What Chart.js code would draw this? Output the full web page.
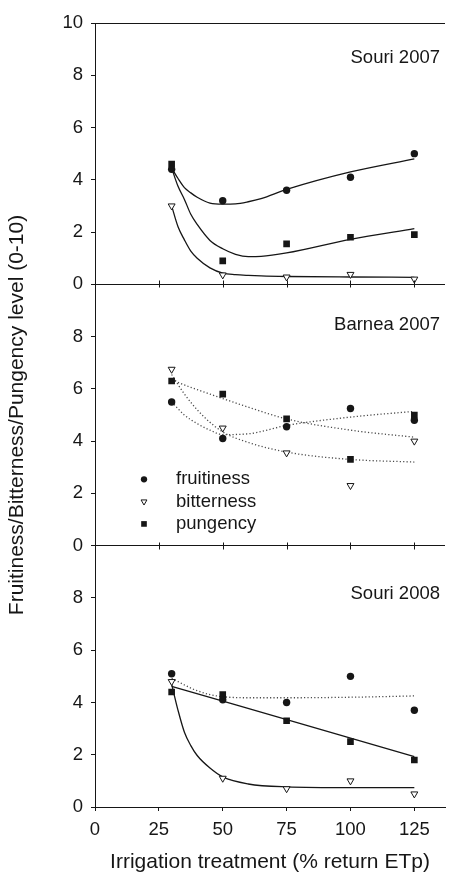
<!DOCTYPE html>
<html>
<head>
<meta charset="utf-8">
<title>Olive oil sensory attributes vs irrigation</title>
<script src="https://cdn.jsdelivr.net/npm/chart.js@4.4.1/dist/chart.umd.min.js"></script>
<style>
  html, body { margin: 0; padding: 0; background: #ffffff; }
  #wrap { width: 450px; height: 875px; }
</style>
</head>
<body>
<div id="wrap"><canvas id="chart" width="450" height="875"></canvas></div>
<script>
// ---- data -------------------------------------------------------------
// Irrigation treatments (% return ETp)
const treatments = [30, 50, 75, 100, 125];
const panelNames = ['Souri 2007', 'Barnea 2007', 'Souri 2008'];
const attributes = ['fruitiness', 'bitterness', 'pungency'];

// Panel means (0-10 scale)
const souri07Fruitiness = [4.4, 3.2, 3.6, 4.1, 5.0];
const souri07Bitterness = [3.0, 0.36, 0.28, 0.38, 0.2];
const souri07Pungency   = [4.6, 0.9, 1.55, 1.8, 1.9];

const barnea07Fruitiness = [5.5, 4.1, 4.55, 5.25, 4.8];
const barnea07Bitterness = [6.75, 4.5, 3.55, 2.3, 4.0];
const barnea07Pungency   = [6.3, 5.8, 4.85, 3.3, 5.0];

const souri08Fruitiness = [5.1, 4.1, 4.0, 5.0, 3.7];
const souri08Bitterness = [4.8, 1.1, 0.7, 1.0, 0.5];
const souri08Pungency   = [4.4, 4.3, 3.3, 2.5, 1.8];

// Fitted response curves, sampled along the treatment axis
const souri07FitX = [30, 32.5, 35, 37.5, 40, 45, 50, 55, 60, 65, 75, 100, 125];
const souri07FruitinessFit = [4.45, 4.05, 3.7, 3.5, 3.33, 3.11, 3.07, 3.08, 3.16, 3.28, 3.63, 4.3, 4.8];
const souri07BitternessFit = [3.0, 2.2, 1.7, 1.27, 1.0, 0.63, 0.43, 0.37, 0.34, 0.32, 0.3, 0.28, 0.27];
const souri07PungencyFit   = [4.45, 3.75, 3.25, 2.68, 2.29, 1.68, 1.36, 1.15, 1.06, 1.07, 1.2, 1.72, 2.13];

const barnea07FitX = [30, 35, 40, 45, 50, 60, 75, 100, 125];
const barnea07FruitinessFit = [5.5, 5.0, 4.67, 4.42, 4.25, 4.28, 4.6, 4.92, 5.14];
const barnea07BitternessFit = [6.55, 5.8, 5.2, 4.72, 4.35, 3.95, 3.58, 3.3, 3.2];
const barnea07PungencyFit   = [6.35, 6.15, 5.97, 5.8, 5.63, 5.3, 4.85, 4.42, 4.15];

const souri08FitX = [30, 32.5, 35, 37.5, 40, 45, 50, 60, 75, 100, 125];
const souri08FruitinessFit = [4.92, 4.8, 4.67, 4.55, 4.45, 4.3, 4.22, 4.18, 4.18, 4.2, 4.25];
const souri08BitternessFit = [4.7, 3.7, 2.86, 2.35, 1.97, 1.49, 1.15, 0.88, 0.77, 0.74, 0.74];
const souri08PungencyFitX  = [30, 125];
const souri08PungencyFit   = [4.62, 1.93];

// ---- styling ----------------------------------------------------------
const INK = '#161616';
const DOTTED = '#4a4a4a';
const FONT = '"Liberation Sans", Arial, Helvetica, sans-serif';

Chart.defaults.font.family = FONT;
Chart.defaults.font.size = 18.5;
Chart.defaults.color = INK;

const markerStyles = {
  fruitiness: { pointStyle: 'circle',   rotation: 0,   radius: 3.7, fill: INK,       border: 0 },
  bitterness: { pointStyle: 'triangle', rotation: 180, radius: 4.0, fill: '#ffffff', border: 1 },
  pungency:   { pointStyle: 'rect',     rotation: 0,   radius: 4.7, fill: INK,       border: 0 }
};

function pts(xs, ys) {
  return xs.map((x, i) => ({ x: x, y: ys[i] }));
}

function markerSet(attr, values, axis) {
  const m = markerStyles[attr];
  return {
    label: attr,
    data: pts(treatments, values),
    yAxisID: axis,
    showLine: false,
    pointStyle: m.pointStyle,
    pointRotation: m.rotation,
    pointRadius: m.radius,
    pointBackgroundColor: m.fill,
    pointBorderColor: INK,
    pointBorderWidth: m.border,
    order: 0
  };
}

function fitSet(attr, xs, ys, axis, dotted) {
  return {
    label: attr + ' fit',
    data: pts(xs, ys),
    yAxisID: axis,
    showLine: true,
    pointRadius: 0,
    borderColor: dotted ? DOTTED : INK,
    borderWidth: dotted ? 1.3 : 1.3,
    borderDash: dotted ? [1.2, 2.2] : [],
    cubicInterpolationMode: 'monotone',
    fill: false,
    order: 1
  };
}

const datasets = [
  // Souri 2007 (solid fits)
  fitSet('fruitiness', souri07FitX, souri07FruitinessFit, 'yTop', false),
  fitSet('bitterness', souri07FitX, souri07BitternessFit, 'yTop', false),
  fitSet('pungency',   souri07FitX, souri07PungencyFit,   'yTop', false),
  markerSet('fruitiness', souri07Fruitiness, 'yTop'),
  markerSet('bitterness', souri07Bitterness, 'yTop'),
  markerSet('pungency',   souri07Pungency,   'yTop'),
  // Barnea 2007 (dotted fits)
  fitSet('fruitiness', barnea07FitX, barnea07FruitinessFit, 'yMid', true),
  fitSet('bitterness', barnea07FitX, barnea07BitternessFit, 'yMid', true),
  fitSet('pungency',   barnea07FitX, barnea07PungencyFit,   'yMid', true),
  markerSet('fruitiness', barnea07Fruitiness, 'yMid'),
  markerSet('bitterness', barnea07Bitterness, 'yMid'),
  markerSet('pungency',   barnea07Pungency,   'yMid'),
  // Souri 2008
  fitSet('fruitiness', souri08FitX, souri08FruitinessFit, 'yBot', true),
  fitSet('bitterness', souri08FitX, souri08BitternessFit, 'yBot', false),
  fitSet('pungency',   souri08PungencyFitX, souri08PungencyFit, 'yBot', false),
  markerSet('fruitiness', souri08Fruitiness, 'yBot'),
  markerSet('bitterness', souri08Bitterness, 'yBot'),
  markerSet('pungency',   souri08Pungency,   'yBot')
];

// One stacked y axis per panel; only the top panel shows its upper frame line
function panelScale(weight, isTop, withTitle) {
  return {
    type: 'linear',
    position: 'left',
    stack: 'panels',
    stackWeight: 1,
    weight: weight,
    min: 0,
    max: 10,
    afterFit: s => { s.width = 95; },
    ticks: {
      stepSize: 2,
      padding: 8,
      color: INK,
      font: { size: 18.5 },
      callback: v => (v === 10 && !isTop) ? '' : String(v)
    },
    grid: {
      color: c => (c.tick && (c.tick.value === 0 || (isTop && c.tick.value === 10))) ? INK : 'rgba(0,0,0,0)',
      tickColor: INK,
      tickLength: 4,
      lineWidth: 1
    },
    border: { display: true, color: INK, width: 1 },
    title: {
      display: withTitle,
      text: 'Fruitiness/Bitterness/Pungency level (0-10)',
      color: INK,
      font: { size: 21 },
      padding: { top: 5, bottom: 0 }
    }
  };
}

// Extra drawing: inner-axis tick marks, panel names and the attribute key
const panelDecor = {
  id: 'panelDecor',
  afterDatasetsDraw(chart, args, opts) {
    const { ctx, chartArea, scales } = chart;
    const xs = scales.x;
    ctx.save();

    // tick marks crossing the baselines of the upper panels
    ctx.strokeStyle = INK;
    ctx.lineWidth = 1;
    opts.innerAxes.forEach(id => {
      const y0 = Math.round(scales[id].getPixelForValue(0));
      xs.ticks.forEach(t => {
        if (t.value === 0) return;
        const px = Math.round(xs.getPixelForValue(t.value)) + 0.5;
        ctx.beginPath();
        ctx.moveTo(px, y0 - opts.tickHalf);
        ctx.lineTo(px, y0 + opts.tickHalf);
        ctx.stroke();
      });
    });

    // panel names
    ctx.fillStyle = INK;
    ctx.font = '18.5px ' + FONT;
    ctx.textAlign = 'right';
    ctx.textBaseline = 'middle';
    opts.panelAxes.forEach((id, i) => {
      ctx.fillText(panelNames[i], chartArea.right - opts.nameInset,
        scales[id].getPixelForValue(opts.nameLevels[i]));
    });

    // attribute key inside the middle panel
    const mid = scales[opts.keyAxis];
    const keyX = chartArea.left + opts.keyMarkerX;
    ctx.textAlign = 'left';
    attributes.forEach((attr, i) => {
      const m = markerStyles[attr];
      const y = mid.top + opts.keyTop + i * opts.keyRow;
      ctx.fillStyle = m.fill;
      ctx.strokeStyle = INK;
      ctx.lineWidth = 1;
      Chart.helpers.drawPoint(ctx, {
        pointStyle: m.pointStyle,
        rotation: m.rotation,
        radius: m.radius * opts.keyMarkerScale,
        borderWidth: m.border
      }, keyX, y);
      ctx.fillStyle = INK;
      ctx.fillText(attr, chartArea.left + opts.keyTextX, y);
    });

    ctx.restore();
  }
};

new Chart(document.getElementById('chart'), {
  type: 'scatter',
  data: { datasets: datasets },
  options: {
    responsive: false,
    devicePixelRatio: 1,
    animation: false,
    events: [],
    layout: { padding: { top: 23, right: 0, bottom: 0, left: 0 } },
    plugins: {
      legend: { display: false },
      tooltip: { enabled: false },
      panelDecor: {
        innerAxes: ['yTop', 'yMid'],
        tickHalf: 3.5,
        panelAxes: ['yTop', 'yMid', 'yBot'],
        nameLevels: [8.65, 8.43, 8.15],
        nameInset: 5,
        keyAxis: 'yMid',
        keyMarkerX: 49,
        keyTextX: 81,
        keyTop: 195,
        keyRow: 22.3,
        keyMarkerScale: 0.85
      }
    },
    scales: {
      x: {
        type: 'linear',
        position: 'bottom',
        min: 0,
        max: 137,
        afterFit: s => { s.height = 68; },
        ticks: { stepSize: 25, includeBounds: false, padding: 8, color: INK, font: { size: 18.5 } },
        grid: { drawOnChartArea: false, tickLength: 4, tickColor: INK, color: INK },
        border: { display: true, color: INK, width: 1 },
        title: {
          display: true,
          text: 'Irrigation treatment (% return ETp)',
          color: INK,
          font: { size: 21 },
          padding: { top: 0, bottom: 0 }
        }
      },
      yTop: panelScale(3, true, false),
      yMid: panelScale(2, false, true),
      yBot: panelScale(1, false, false)
    }
  },
  plugins: [panelDecor]
});
</script>
</body>
</html>
